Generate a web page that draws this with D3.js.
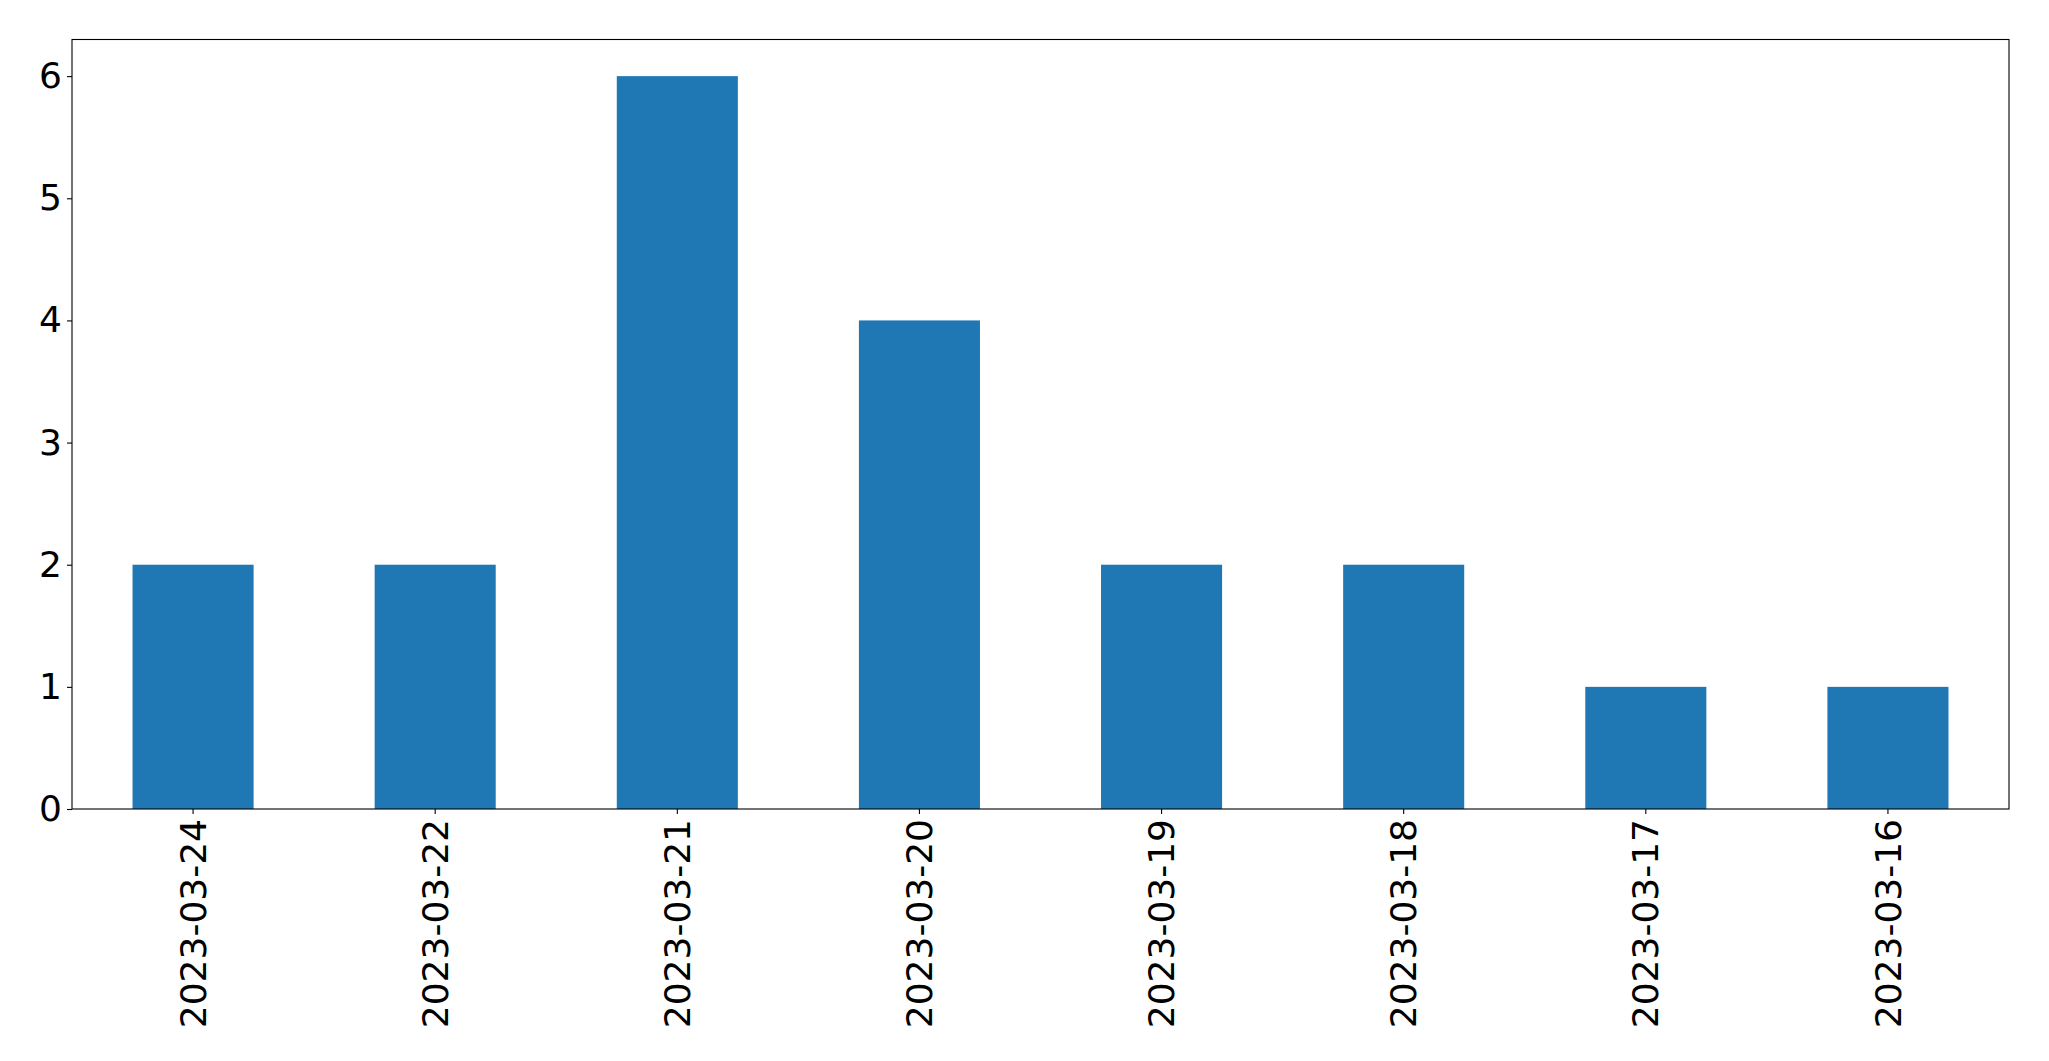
<!DOCTYPE html>
<html>
<head>
<meta charset="utf-8">
<script src="https://cdn.jsdelivr.net/npm/d3@7"></script>
<style>
html,body{margin:0;padding:0;background:#fff;}
svg{display:block;}
</style>
</head>
<body>
<svg id="chart" width="2049" height="1061"></svg>
<script>
const categories = ["2023-03-24","2023-03-22","2023-03-21","2023-03-20","2023-03-19","2023-03-18","2023-03-17","2023-03-16"];
const values = [2,2,6,4,2,2,1,1];
const yTicks = [0,1,2,3,4,5,6];

const W = 2049, H = 1061;
const m = {left:72, right:2009, top:39.5, bottom:809};
const svg = d3.select("#chart");

const x = d3.scaleBand().domain(categories).range([m.left, m.right]).paddingInner(0.5).paddingOuter(0.25);
const y = d3.scaleLinear().domain([0, 6.3]).range([m.bottom, m.top]);

svg.append("g").selectAll("rect").data(values).join("rect")
  .attr("x", (d,i) => x(categories[i]))
  .attr("width", x.bandwidth())
  .attr("y", d => y(d))
  .attr("height", d => y(0) - y(d))
  .attr("fill", "#1f77b4");

const font = "DejaVu Sans, sans-serif";

const yAxis = svg.append("g").attr("transform", `translate(${m.left},0)`)
  .call(d3.axisLeft(y).tickValues(yTicks).tickFormat(d3.format("d")).tickSize(5).tickPadding(5));
yAxis.select(".domain").remove();
yAxis.selectAll("text").attr("font-family", font).attr("font-size", 36).attr("fill","#000");
yAxis.selectAll("line").attr("stroke","#000").attr("stroke-width",1.1);

const xAxis = svg.append("g").attr("transform", `translate(0,${m.bottom})`)
  .call(d3.axisBottom(x).tickSize(5).tickPadding(5));
xAxis.select(".domain").remove();
xAxis.selectAll("line").attr("stroke","#000").attr("stroke-width",1.1);
xAxis.selectAll("text")
  .attr("font-family", font).attr("font-size", 36).attr("fill","#000")
  .attr("transform","rotate(-90)")
  .attr("x", -10).attr("y", 0).attr("dy","0.35em")
  .attr("text-anchor","end");

svg.append("rect")
  .attr("x", m.left).attr("y", m.top)
  .attr("width", m.right - m.left).attr("height", m.bottom - m.top)
  .attr("fill","none").attr("stroke","#000").attr("stroke-width",1.1);
</script>
</body>
</html>
